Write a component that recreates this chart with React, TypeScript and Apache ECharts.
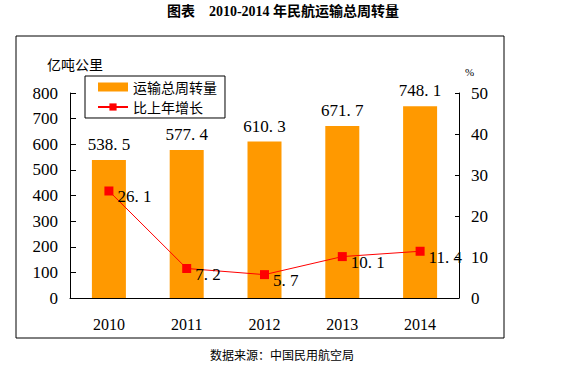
import React, { useEffect, useRef } from "react";
import * as echarts from "echarts";

const years = ["2010", "2011", "2012", "2013", "2014"];
const turnover = [538.5, 577.4, 610.3, 671.7, 748.1];
const growth = [26.1, 7.2, 5.7, 10.1, 11.4];

const serif = "'Liberation Serif', 'Noto Sans CJK SC', serif";
const cjk = "'Noto Sans CJK SC', sans-serif";

export default function App() {
  const ref = useRef<HTMLDivElement>(null);
  useEffect(() => {
    if (!ref.current) return;
    const chart = echarts.init(ref.current, null, { renderer: "svg" });
    chart.setOption({
      animation: false,
      backgroundColor: "#fff",
      graphic: [
        { type: "rect", shape: { x: 16, y: 36, width: 488, height: 302 }, style: { fill: "none", stroke: "#000", lineWidth: 1 }, silent: true },
        { type: "text", x: 283, y: 11, style: { text: "图表    2010-2014 年民航运输总周转量", font: "bold 14px 'Liberation Serif', 'Noto Sans CJK SC', serif", fill: "#000", align: "center", verticalAlign: "middle" } },
        { type: "text", x: 282, y: 354, style: { text: "数据来源：中国民用航空局", font: "12px " + cjk, fill: "#000", align: "center", verticalAlign: "middle" } },
        { type: "text", x: 47, y: 64, style: { text: "亿吨公里", font: "14px " + cjk, fill: "#000", verticalAlign: "middle" } },
        { type: "text", x: 465, y: 72, style: { text: "%", font: "11px " + serif, fill: "#000", verticalAlign: "middle" } },
      ],
      legend: {
        left: 85,
        top: 76,
        orient: "vertical",
        itemGap: 6,
        itemWidth: 30,
        itemHeight: 9,
        padding: [4, 8, 4, 12],
        borderColor: "#000",
        borderWidth: 1,
        borderRadius: 0,
        textStyle: { fontFamily: cjk, fontSize: 14, color: "#000" },
        data: [
          { name: "运输总周转量", icon: "rect" },
          { name: "比上年增长" },
        ],
      },
      grid: { left: 70, right: 107, top: 93, bottom: 70 },
      xAxis: {
        type: "category",
        data: years,
        axisLine: { lineStyle: { color: "#000", width: 1 } },
        axisTick: { inside: true, length: 5, lineStyle: { color: "#000" } },
        axisLabel: { fontFamily: serif, fontSize: 16, color: "#000", margin: 18 },
      },
      yAxis: [
        {
          type: "value",
          min: 0,
          max: 800,
          interval: 100,
          axisLine: { show: true, lineStyle: { color: "#000" } },
          axisTick: { show: true, inside: true, length: 6, lineStyle: { color: "#000" } },
          splitLine: { show: false },
          axisLabel: { fontFamily: serif, fontSize: 17, color: "#000", margin: 12 },
        },
        {
          type: "value",
          min: 0,
          max: 50,
          interval: 10,
          position: "right",
          axisLine: { show: true, lineStyle: { color: "#000" } },
          axisTick: { show: true, inside: true, length: 4, lineStyle: { color: "#000" } },
          splitLine: { show: false },
          axisLabel: { fontFamily: serif, fontSize: 17, color: "#000", margin: 12 },
        },
      ],
      series: [
        {
          name: "运输总周转量",
          type: "bar",
          data: turnover,
          barWidth: 34,
          itemStyle: { color: "#FF9900" },
          label: { show: true, position: "top", distance: 7, fontFamily: serif, fontSize: 17, color: "#000", formatter: (p: any) => p.value.toFixed(1).replace(".", ". ") },
        },
        {
          name: "比上年增长",
          type: "line",
          yAxisIndex: 1,
          data: growth,
          symbol: "rect",
          symbolSize: 9,
          lineStyle: { color: "#FF0000", width: 1 },
          itemStyle: { color: "#FF0000" },
          label: { show: true, position: "right", distance: 4, offset: [0, 6], fontFamily: serif, fontSize: 17, color: "#000", formatter: (p: any) => p.value.toFixed(1).replace(".", ". ") },
        },
      ],
    });
    return () => chart.dispose();
  }, []);
  return <div ref={ref} style={{ width: 566, height: 368, position: "absolute", left: 0, top: 0 }} />;
}
